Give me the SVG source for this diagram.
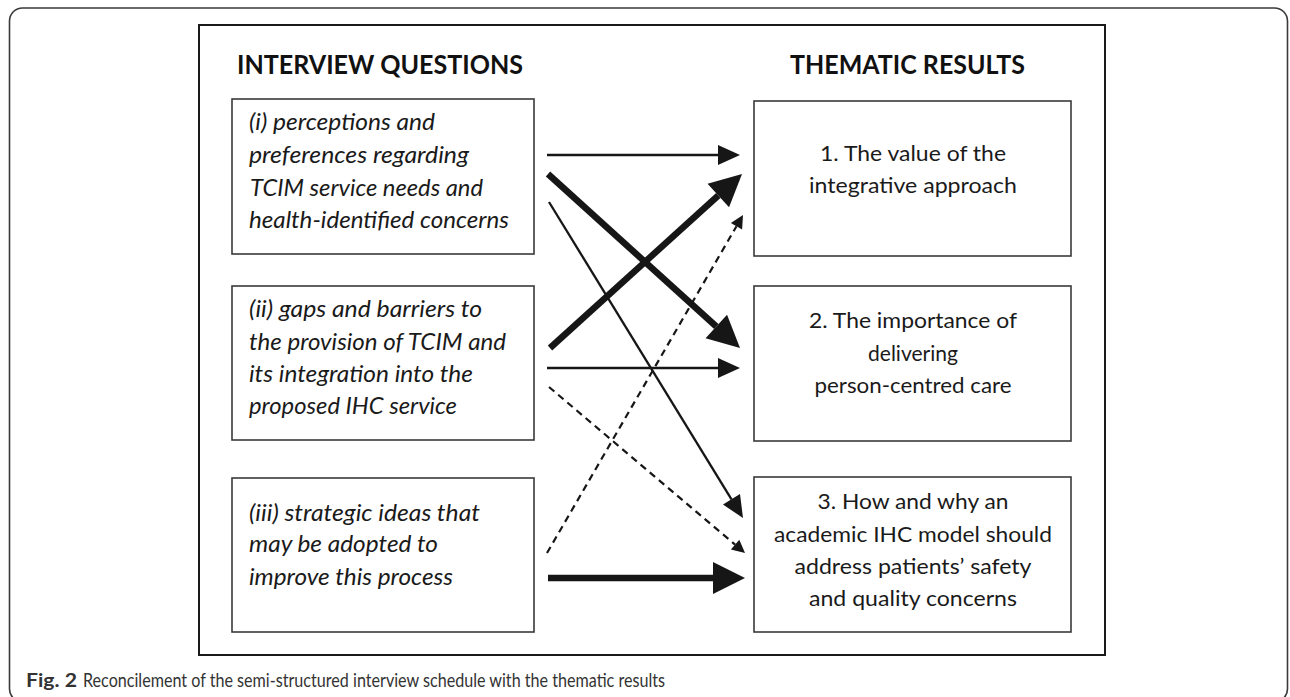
<svg xmlns="http://www.w3.org/2000/svg" width="1290" height="697" viewBox="0 0 1290 697">
<style>
.frame{fill:none;stroke:#3a3a3a;stroke-width:1.6}
.inner{fill:none;stroke:#1a1a1a;stroke-width:2}
.box{fill:#fff;stroke:#3a3a3a;stroke-width:1.6}
.title{font-family:Lato,"Open Sans",sans-serif;font-weight:bold;font-size:26px;fill:#111}
.q{font-family:Lato,"Open Sans",sans-serif;font-style:italic;font-size:23px;fill:#1a1a1a}
.r{font-family:Lato,"Open Sans",sans-serif;font-size:22px;fill:#1a1a1a;text-anchor:middle}
.cap{font-family:Lato,"Open Sans",sans-serif;font-size:19px;fill:#333}
.thin{stroke:#161616;stroke-width:2.3;fill:none}
.thick{stroke:#161616;stroke-width:6.5;fill:none}
.dash{stroke:#161616;stroke-width:2.2;fill:none;stroke-dasharray:7 5}
</style>
<defs>
<marker id="hThin" markerUnits="userSpaceOnUse" markerWidth="24" markerHeight="22" refX="0" refY="10" orient="auto" overflow="visible"><path d="M0,0 L22,10 L0,20 z" fill="#161616"/></marker>
<marker id="hThick" markerUnits="userSpaceOnUse" markerWidth="34" markerHeight="34" refX="0" refY="16" orient="auto" overflow="visible"><path d="M0,0 L32,16 L0,32 z" fill="#161616"/></marker>
<marker id="hDash" markerUnits="userSpaceOnUse" markerWidth="15" markerHeight="14" refX="0" refY="6.5" orient="auto" overflow="visible"><path d="M0,0 L13,6.5 L0,13 z" fill="#161616"/></marker>
</defs>
<rect class="frame" x="9.5" y="8" width="1278" height="694" rx="13"/>
<rect class="inner" x="199" y="25" width="906" height="630"/>
<text class="title" x="237" y="74" textLength="286" lengthAdjust="spacingAndGlyphs">INTERVIEW QUESTIONS</text>
<text class="title" x="790" y="74" textLength="235" lengthAdjust="spacingAndGlyphs">THEMATIC RESULTS</text>
<g id="q1">
<rect class="box" x="232" y="99" width="302" height="155"/>
<text class="q" x="249" y="130" textLength="186" lengthAdjust="spacingAndGlyphs">(i) perceptions and</text>
<text class="q" x="249" y="163" textLength="220" lengthAdjust="spacingAndGlyphs">preferences regarding</text>
<text class="q" x="250" y="196" textLength="233" lengthAdjust="spacingAndGlyphs">TCIM service needs and</text>
<text class="q" x="249" y="228" textLength="260" lengthAdjust="spacingAndGlyphs">health-identified concerns</text>
</g>
<g id="q2">
<rect class="box" x="232" y="286" width="302" height="154"/>
<text class="q" x="249" y="317" textLength="233" lengthAdjust="spacingAndGlyphs">(ii) gaps and barriers to</text>
<text class="q" x="249" y="350" textLength="257" lengthAdjust="spacingAndGlyphs">the provision of TCIM and</text>
<text class="q" x="249" y="382" textLength="224" lengthAdjust="spacingAndGlyphs">its integration into the</text>
<text class="q" x="249" y="414" textLength="208" lengthAdjust="spacingAndGlyphs">proposed IHC service</text>
</g>
<g id="q3">
<rect class="box" x="232" y="478" width="302" height="154"/>
<text class="q" x="249" y="521" textLength="231" lengthAdjust="spacingAndGlyphs">(iii) strategic ideas that</text>
<text class="q" x="249" y="552" textLength="189" lengthAdjust="spacingAndGlyphs">may be adopted to</text>
<text class="q" x="249" y="585" textLength="204" lengthAdjust="spacingAndGlyphs">improve this process</text>
</g>
<g id="r1">
<rect class="box" x="754" y="101" width="317" height="155"/>
<text class="r" x="913" y="161" textLength="186" lengthAdjust="spacingAndGlyphs">1. The value of the</text>
<text class="r" x="913" y="193" textLength="208" lengthAdjust="spacingAndGlyphs">integrative approach</text>
</g>
<g id="r2">
<rect class="box" x="754" y="286" width="317" height="155"/>
<text class="r" x="913" y="328" textLength="208" lengthAdjust="spacingAndGlyphs">2. The importance of</text>
<text class="r" x="913" y="361" textLength="90" lengthAdjust="spacingAndGlyphs">delivering</text>
<text class="r" x="913" y="393" textLength="197" lengthAdjust="spacingAndGlyphs">person-centred care</text>
</g>
<g id="r3">
<rect class="box" x="754" y="477" width="317" height="155"/>
<text class="r" x="913" y="509" textLength="191" lengthAdjust="spacingAndGlyphs">3. How and why an</text>
<text class="r" x="913" y="542" textLength="278" lengthAdjust="spacingAndGlyphs">academic IHC model should</text>
<text class="r" x="913" y="574" textLength="237" lengthAdjust="spacingAndGlyphs">address patients’ safety</text>
<text class="r" x="913" y="606" textLength="208" lengthAdjust="spacingAndGlyphs">and quality concerns</text>
</g>
<g id="connectors">
<line class="thin" x1="547" y1="155" x2="718" y2="155" marker-end="url(#hThin)"/>
<line class="thick" x1="548" y1="174" x2="716.3" y2="326.5" marker-end="url(#hThick)"/>
<line class="thin" x1="549" y1="202" x2="731.5" y2="499.3" marker-end="url(#hThin)"/>
<line class="thick" x1="550" y1="348" x2="718.3" y2="195.5" marker-end="url(#hThick)"/>
<line class="dash" x1="547" y1="553" x2="736.5" y2="226.2" marker-end="url(#hDash)"/>
<line class="thin" x1="547" y1="368" x2="718" y2="368" marker-end="url(#hThin)"/>
<line class="dash" x1="549" y1="387" x2="735.1" y2="544.6" marker-end="url(#hDash)"/>
<line class="thick" x1="548" y1="578" x2="713" y2="578" marker-end="url(#hThick)"/>
</g>
<text class="cap" x="26" y="687" font-weight="bold" fill="#111" textLength="51" lengthAdjust="spacingAndGlyphs">Fig. 2</text>
<text class="cap" x="83" y="687" textLength="582" lengthAdjust="spacingAndGlyphs">Reconcilement of the semi-structured interview schedule with the thematic results</text>
</svg>
